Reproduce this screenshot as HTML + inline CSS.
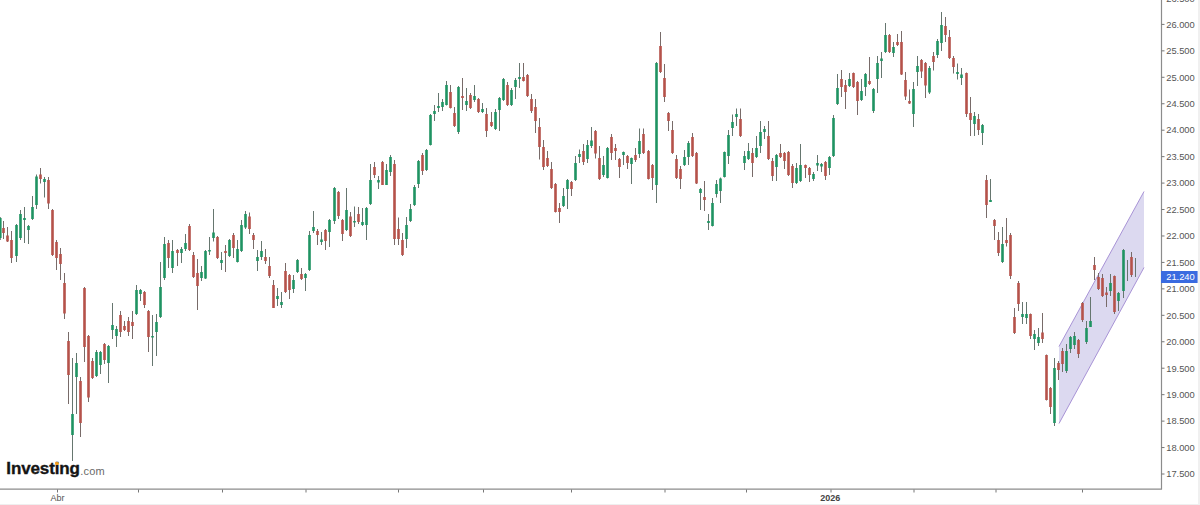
<!DOCTYPE html>
<html><head><meta charset="utf-8"><title>Chart</title>
<style>
html,body{margin:0;padding:0;background:#fff;}
body{width:1200px;height:505px;overflow:hidden;position:relative;font-family:"Liberation Sans",sans-serif;}
svg{position:absolute;left:0;top:0;display:block;}
.logo{position:absolute;left:6.3px;top:458.1px;font-family:"Liberation Sans",sans-serif;font-weight:700;font-size:17px;line-height:22px;color:#141414;letter-spacing:-0.12px;-webkit-text-stroke:0.35px #141414;white-space:nowrap;}
.logo span{position:relative;top:0.6px;-webkit-text-stroke:0;font-weight:400;font-size:11px;color:#6a6a6a;letter-spacing:0.15px;margin-left:0.5px;}
.dot{position:absolute;left:55.3px;top:461.5px;width:3.4px;height:3.4px;border-radius:50%;background:#f5a01d;}
.rb{position:absolute;left:1197.6px;top:0;width:2.4px;height:505px;background:#f0f0f0;}
.bb{position:absolute;left:0;top:504px;width:1200px;height:1px;background:#efefef;}
</style></head><body>
<svg width="1200" height="505" viewBox="0 0 1200 505">
<polygon points="1059,346.5 1144,191.5 1144,267.5 1059,423.5" fill="#dcd9f0"/>
<path d="M1059 346.5L1144 191.5M1059 423.5L1144 267.5" stroke="#a893d6" stroke-width="1" fill="none"/>
<path d="M0.3 217V240M16.5 224V262M20.5 210V240M24.5 207V243M28.5 225V244M32.5 196V220M36.5 174.5V209M44.5 177V197.5M72.5 358V461M76.5 353V414M96.5 350V377M100.5 351V374M108.5 345V383M112.5 303V339M116.5 326V347M136.5 285V315M140.5 289V301M152.5 315V366M156.5 314V356M160.5 262V318M164.5 237V280M172.5 240V273M181.5 247V263M185.5 234V251M201.5 266V281M205.5 250V279M209.5 237V255M213.5 209V241.5M221.5 252V270M229.5 239V257M237.5 240V262.5M241.5 220V252M245.5 211V229M257.5 250V271M261.5 241V260M277.5 288V306M281.5 292V308M293.5 275V293M297.5 259V273M305.5 273V291M309.5 231V271M313.5 211V233M321.5 232V245M329.5 219V247M334.5 187V224M346.5 188V231M354.5 206.5V227M362.5 208V226M366.5 207V240M370.5 164V205M378.5 176V189M386.5 164V185M390.5 155V176M406.5 217V248M410.5 204V222M414.5 185V206M418.5 160V188M426.5 149V171M430.5 114V145.5M434.5 105V121M438.5 93V112M442.5 99V111M446.5 81V105.5M458.5 86V134M466.5 88V111M474.5 85V102M482.5 103V113M495.5 109V130M499.5 97V131M503.5 78V101M511.5 88V106M515.5 78V99M519.5 63V88M563.5 188V207M567.5 179V209M575.5 156V181M579.5 149.5V163M587.5 140V163M591.5 127V148M603.5 156V177M607.5 147V178.5M623.5 151.5V165M631.5 157.5V184M639.5 128.5V158M656.5 62V203M684.5 150V166M688.5 141V165M700.5 188V210M708.5 214V230M712.5 198V226.5M716.5 180V197.5M720.5 177.5V203M724.5 151.5V177.5M728.5 130V164M732.5 114.5V136M736.5 108.5V126M744.5 151V170M748.5 143V160M756.5 136V158M760.5 121V153M764.5 126V139M776.5 154V181M796.5 163V184M800.5 144V182M813.5 172V181M817.5 155V171M821.5 163V172M829.5 156V175M833.5 115V157M837.5 74V105M849.5 73V87M861.5 79V101M865.5 73V96M873.5 88V113M877.5 56V93M881.5 52V78M885.5 23V53M893.5 42V57M913.5 82V127M917.5 56V86M929.5 66V94M937.5 39V58M941.5 12V51M957.5 63.5V79.5M961.5 68V85M974.5 112V136M982.5 124V145M990.5 179V202M1002.5 227V263M1022.5 302V324M1026.5 302V324M1034.5 330V350M1038.5 328V346M1054.5 358V426M1066.5 344V373M1070.5 336V353M1074.5 332V349M1086.5 321V344M1090.5 297V327M1110.5 274V296M1118.5 292V311M1123.5 249V298M1127.5 260V281M1135.5 258V277" stroke="#66766f" stroke-width="1" fill="none"/>
<path d="M3.5 221V239M7.5 227V242M11.5 231V263M40.5 168V183.5M48.5 177V209M52.5 209V256M56.5 240V270M60.5 248V280M64.5 273V319M68.5 332V404M80.5 377V437M84.5 287V362M88.5 335V402M92.5 358V379M104.5 343V364M120.5 311V337M124.5 321V331M128.5 317V336M132.5 311V339M144.5 291V308M148.5 310V352M168.5 240V268M177.5 249V266M189.5 224V251M193.5 252V278M197.5 259V310M217.5 236V259M225.5 245V272M233.5 233V258M249.5 212.5V234M253.5 233V249M265.5 249V264M269.5 257V278M273.5 280V308M285.5 263V293M289.5 274V299M301.5 268V280M317.5 229V245M325.5 229V250M338.5 191V219M342.5 219V241M350.5 212V237M358.5 207V224M374.5 162V178M382.5 161V185M394.5 160V245M398.5 217.5V245M402.5 233V256M422.5 153V175M450.5 85V108.5M454.5 107V127M462.5 78V110M470.5 93V109M478.5 98V113M486.5 108V137M491.5 112V127M507.5 82V106M523.5 63V81.5M527.5 74V97M531.5 94V113M535.5 99V133M539.5 118V159.5M543.5 140V170M547.5 151V167M551.5 162V189M555.5 183V212.5M559.5 203V223M571.5 181V196M583.5 144V165M595.5 130V158.5M599.5 146V180M611.5 134V160M615.5 144V160M619.5 158V178M627.5 155V169M635.5 148V162M643.5 128.5V154M648.5 150V179.5M652.5 164V190M660.5 32V73M664.5 64V102M668.5 112V131M672.5 121V154M676.5 155V179M680.5 166V189M692.5 133V157M696.5 152V184M704.5 181V211M740.5 108.5V137M752.5 148V177M768.5 121V160M772.5 158V181M780.5 144V158M784.5 152V169M788.5 151V176M792.5 164V188M805.5 164.5V178M809.5 167V182M825.5 161V180M841.5 70V97M845.5 80V109M853.5 72.5V88M857.5 81V115M869.5 57V85M889.5 34V53M897.5 34V46M901.5 31V75M905.5 72V100M909.5 89.5V104M921.5 59V78M925.5 62V98M933.5 52V70.5M945.5 17V42M949.5 30V59M953.5 56V73.5M966.5 72.5V117M970.5 97V136M978.5 114V135M986.5 175V218M994.5 219V240M998.5 232V256M1006.5 218V246.5M1010.5 233V279M1014.5 308V334M1018.5 281V311M1030.5 313.5V339M1042.5 313V343M1046.5 354.5V400.5M1050.5 387V414M1058.5 361V380M1062.5 348V372M1078.5 339V358M1082.5 302V322M1094.5 257V280M1098.5 273V290M1102.5 274V297M1106.5 287V307M1114.5 275.5V314M1131.5 252V277" stroke="#786b69" stroke-width="1" fill="none"/>
<path d="M-1 218h2.6v20h-2.6zM15.2 225h2.6v31h-2.6zM19.2 214h2.6v24h-2.6zM23.2 218h2.6v2h-2.6zM27.2 226h2.6v4h-2.6zM31.2 207h2.6v12h-2.6zM35.2 176.5h2.6v28.5h-2.6zM43.2 179h2.6v3h-2.6zM71.2 414h2.6v21h-2.6zM75.2 363h2.6v14h-2.6zM95.2 352h2.6v24h-2.6zM99.2 352h2.6v13h-2.6zM107.2 346h2.6v17h-2.6zM111.2 325h2.6v5h-2.6zM115.2 329h2.6v7h-2.6zM135.2 290h2.6v24h-2.6zM139.2 290h2.6v4h-2.6zM151.2 336h2.6v1.5h-2.6zM155.2 322h2.6v10h-2.6zM159.2 287h2.6v30h-2.6zM163.2 244h2.6v34h-2.6zM171.2 251h2.6v17h-2.6zM180.2 249h2.6v4h-2.6zM184.2 243h2.6v6h-2.6zM200.2 272h2.6v6h-2.6zM204.2 251h2.6v27.5h-2.6zM208.2 250h2.6v1.5h-2.6zM212.2 232.5h2.6v5.5h-2.6zM220.2 260h2.6v3h-2.6zM228.2 240h2.6v16h-2.6zM236.2 249h2.6v13h-2.6zM240.2 225h2.6v26h-2.6zM244.2 214h2.6v13.5h-2.6zM256.2 257h2.6v4h-2.6zM260.2 251h2.6v6h-2.6zM276.2 296h2.6v3h-2.6zM280.2 302h2.6v3h-2.6zM292.2 280h2.6v9h-2.6zM296.2 260h2.6v12h-2.6zM304.2 274h2.6v4h-2.6zM308.2 235h2.6v35h-2.6zM312.2 227h2.6v4h-2.6zM320.2 239.5h2.6v2.5h-2.6zM328.2 220h2.6v12h-2.6zM333.2 188h2.6v33h-2.6zM345.2 210h2.6v20h-2.6zM353.2 221h2.6v1.5h-2.6zM361.2 222h2.6v3h-2.6zM365.2 208h2.6v17h-2.6zM369.2 180h2.6v24h-2.6zM377.2 180h2.6v2.5h-2.6zM385.2 170h2.6v15h-2.6zM389.2 157h2.6v15h-2.6zM405.2 225h2.6v14h-2.6zM409.2 209h2.6v12h-2.6zM413.2 187h2.6v18h-2.6zM417.2 161h2.6v23h-2.6zM425.2 150h2.6v20h-2.6zM429.2 115h2.6v30h-2.6zM433.2 111h2.6v3h-2.6zM437.2 106h2.6v2h-2.6zM441.2 102h2.6v5h-2.6zM445.2 85h2.6v20h-2.6zM457.2 87h2.6v45h-2.6zM465.2 101h2.6v4h-2.6zM473.2 96h2.6v4h-2.6zM481.2 109h2.6v3h-2.6zM494.2 112h2.6v17h-2.6zM498.2 98h2.6v12h-2.6zM502.2 79h2.6v21h-2.6zM510.2 90h2.6v15h-2.6zM514.2 80h2.6v7h-2.6zM518.2 77h2.6v2h-2.6zM562.2 196h2.6v10h-2.6zM566.2 180h2.6v9h-2.6zM574.2 163h2.6v17h-2.6zM578.2 154h2.6v3h-2.6zM586.2 145h2.6v14h-2.6zM590.2 140.5h2.6v5.5h-2.6zM602.2 165h2.6v10h-2.6zM606.2 148h2.6v30h-2.6zM622.2 152h2.6v3h-2.6zM630.2 158h2.6v6h-2.6zM638.2 141h2.6v13h-2.6zM655.2 63h2.6v122h-2.6zM683.2 157h2.6v8h-2.6zM687.2 143h2.6v14h-2.6zM699.2 189h2.6v4h-2.6zM707.2 221h2.6v2h-2.6zM711.2 203h2.6v23h-2.6zM715.2 184h2.6v10h-2.6zM719.2 178.5h2.6v12.5h-2.6zM723.2 152h2.6v25h-2.6zM727.2 135h2.6v21h-2.6zM731.2 122h2.6v6h-2.6zM735.2 114h2.6v3h-2.6zM743.2 156h2.6v7h-2.6zM747.2 151h2.6v8h-2.6zM755.2 148h2.6v9h-2.6zM759.2 132h2.6v14h-2.6zM763.2 129h2.6v3h-2.6zM775.2 155h2.6v12h-2.6zM795.2 168h2.6v15h-2.6zM799.2 165h2.6v16h-2.6zM812.2 174h2.6v5h-2.6zM816.2 163h2.6v2.5h-2.6zM820.2 164h2.6v2.5h-2.6zM828.2 157h2.6v11h-2.6zM832.2 118h2.6v38h-2.6zM836.2 88h2.6v16h-2.6zM848.2 79h2.6v7h-2.6zM860.2 91h2.6v9h-2.6zM864.2 74h2.6v13h-2.6zM872.2 89h2.6v22h-2.6zM876.2 63h2.6v16h-2.6zM880.2 58.5h2.6v2.5h-2.6zM884.2 35h2.6v17h-2.6zM892.2 47h2.6v6h-2.6zM912.2 89h2.6v25h-2.6zM916.2 66h2.6v6h-2.6zM928.2 68h2.6v24.5h-2.6zM936.2 41h2.6v14h-2.6zM940.2 25h2.6v18h-2.6zM956.2 72h2.6v2h-2.6zM960.2 74.5h2.6v3.5h-2.6zM973.2 116h2.6v8h-2.6zM981.2 125h2.6v8h-2.6zM989.2 200h2.6v2h-2.6zM1001.2 244h2.6v18h-2.6zM1021.2 314h2.6v3h-2.6zM1025.2 314h2.6v4h-2.6zM1033.2 334h2.6v5h-2.6zM1037.2 337h2.6v6h-2.6zM1053.2 368h2.6v55h-2.6zM1065.2 351h2.6v20h-2.6zM1069.2 337h2.6v12h-2.6zM1073.2 336h2.6v9h-2.6zM1085.2 328h2.6v14h-2.6zM1089.2 321h2.6v6h-2.6zM1109.2 283h2.6v8h-2.6zM1117.2 293h2.6v8h-2.6zM1122.2 250h2.6v41h-2.6z" fill="#1f9362"/>
<path d="M2.2 228h2.6v5h-2.6zM6.2 235.5h2.6v6h-2.6zM10.2 240h2.6v18h-2.6zM39.2 174.5h2.6v4.5h-2.6zM47.2 180h2.6v23.5h-2.6zM51.2 210h2.6v45h-2.6zM55.2 242h2.6v16h-2.6zM59.2 254h2.6v10h-2.6zM63.2 283h2.6v30.5h-2.6zM67.2 341h2.6v34h-2.6zM79.2 381h2.6v42h-2.6zM83.2 288h2.6v59h-2.6zM87.2 336h2.6v61.5h-2.6zM91.2 361h2.6v17h-2.6zM103.2 344h2.6v16h-2.6zM119.2 315h2.6v17h-2.6zM123.2 326h2.6v4h-2.6zM127.2 321h2.6v11h-2.6zM131.2 322h2.6v4h-2.6zM143.2 292h2.6v13h-2.6zM147.2 311h2.6v26h-2.6zM167.2 243h2.6v15h-2.6zM176.2 250h2.6v3h-2.6zM188.2 226h2.6v24h-2.6zM192.2 255h2.6v22h-2.6zM196.2 273h2.6v13h-2.6zM216.2 237h2.6v21h-2.6zM224.2 251h2.6v2h-2.6zM232.2 235h2.6v13h-2.6zM248.2 216.5h2.6v12.5h-2.6zM252.2 235h2.6v5h-2.6zM264.2 257h2.6v4h-2.6zM268.2 266h2.6v10h-2.6zM272.2 285h2.6v23h-2.6zM284.2 271h2.6v21h-2.6zM288.2 275h2.6v15h-2.6zM300.2 274h2.6v5h-2.6zM316.2 231h2.6v4h-2.6zM324.2 230h2.6v11h-2.6zM337.2 192h2.6v24h-2.6zM341.2 220h2.6v14h-2.6zM349.2 216.5h2.6v19.5h-2.6zM357.2 214h2.6v8h-2.6zM373.2 167h2.6v8h-2.6zM381.2 162h2.6v23h-2.6zM393.2 164h2.6v75h-2.6zM397.2 229h2.6v10h-2.6zM401.2 240h2.6v15h-2.6zM421.2 155h2.6v16h-2.6zM449.2 92h2.6v16h-2.6zM453.2 113h2.6v13h-2.6zM461.2 96h2.6v2h-2.6zM469.2 95h2.6v13h-2.6zM477.2 99h2.6v13h-2.6zM485.2 114h2.6v17h-2.6zM490.2 122h2.6v4h-2.6zM506.2 85h2.6v20h-2.6zM522.2 77h2.6v4h-2.6zM526.2 75h2.6v21h-2.6zM530.2 99h2.6v12h-2.6zM534.2 107h2.6v14h-2.6zM538.2 127h2.6v20h-2.6zM542.2 147h2.6v20h-2.6zM546.2 158h2.6v8h-2.6zM550.2 169h2.6v19h-2.6zM554.2 184h2.6v28h-2.6zM558.2 208h2.6v4h-2.6zM570.2 182h2.6v7h-2.6zM582.2 151h2.6v11h-2.6zM594.2 131h2.6v22.5h-2.6zM598.2 158h2.6v21h-2.6zM610.2 137h2.6v16h-2.6zM614.2 148h2.6v3h-2.6zM618.2 159h2.6v8h-2.6zM626.2 156h2.6v7h-2.6zM634.2 155h2.6v5h-2.6zM642.2 134h2.6v19h-2.6zM647.2 151h2.6v28h-2.6zM651.2 165h2.6v13h-2.6zM659.2 46h2.6v26h-2.6zM663.2 78h2.6v19h-2.6zM667.2 113h2.6v8h-2.6zM671.2 130h2.6v23h-2.6zM675.2 159h2.6v19h-2.6zM679.2 169h2.6v10h-2.6zM691.2 137h2.6v19h-2.6zM695.2 153h2.6v30.5h-2.6zM703.2 197h2.6v3h-2.6zM739.2 119h2.6v17h-2.6zM751.2 153h2.6v10h-2.6zM767.2 136h2.6v23h-2.6zM771.2 161h2.6v15h-2.6zM779.2 153h2.6v4h-2.6zM783.2 153h2.6v8h-2.6zM787.2 152h2.6v23h-2.6zM791.2 166h2.6v17h-2.6zM804.2 165h2.6v3h-2.6zM808.2 168h2.6v7h-2.6zM824.2 162h2.6v14h-2.6zM840.2 79h2.6v8h-2.6zM844.2 85h2.6v7h-2.6zM852.2 73h2.6v14h-2.6zM856.2 82h2.6v19h-2.6zM868.2 81h2.6v3h-2.6zM888.2 35h2.6v17h-2.6zM896.2 42h2.6v3h-2.6zM900.2 42h2.6v32.5h-2.6zM904.2 80h2.6v16.5h-2.6zM908.2 101h2.6v2.5h-2.6zM920.2 60h2.6v11.5h-2.6zM924.2 63h2.6v22.5h-2.6zM932.2 56h2.6v6h-2.6zM944.2 26h2.6v9h-2.6zM948.2 37h2.6v21h-2.6zM952.2 58h2.6v9h-2.6zM965.2 73h2.6v41h-2.6zM969.2 113h2.6v7h-2.6zM977.2 119h2.6v11h-2.6zM985.2 180h2.6v25h-2.6zM993.2 220h2.6v6h-2.6zM997.2 240h2.6v13h-2.6zM1005.2 240h2.6v3h-2.6zM1009.2 235h2.6v41h-2.6zM1013.2 317h2.6v16h-2.6zM1017.2 283h2.6v21h-2.6zM1029.2 314h2.6v22h-2.6zM1041.2 332.5h2.6v6.5h-2.6zM1045.2 355h2.6v45h-2.6zM1049.2 388h2.6v19h-2.6zM1057.2 363h2.6v7h-2.6zM1061.2 351h2.6v13h-2.6zM1077.2 340h2.6v14h-2.6zM1081.2 303h2.6v17h-2.6zM1093.2 265h2.6v5h-2.6zM1097.2 277h2.6v12h-2.6zM1101.2 278h2.6v18h-2.6zM1105.2 292.5h2.6v2.5h-2.6zM1113.2 276h2.6v36h-2.6zM1130.2 257h2.6v18h-2.6z" fill="#b5524a"/>

<path d="M0 489.1H1162M1161.5 0V489.6" stroke="#8c8c8c" stroke-width="1.2" fill="none"/>
<path d="M1161.5 -1.35h3M1161.5 24.4h3M1161.5 50.85h3M1161.5 77.29h3M1161.5 103.74h3M1161.5 130.19h3M1161.5 156.64h3M1161.5 183.08h3M1161.5 209.53h3M1161.5 235.98h3M1161.5 262.42h3M1161.5 288.87h3M1161.5 315.32h3M1161.5 341.76h3M1161.5 368.21h3M1161.5 394.66h3M1161.5 421.11h3M1161.5 447.55h3M1161.5 474h3M57.5 489.5v3M138.5 489.5v3M222.5 489.5v3M306 489.5v3M398.5 489.5v3M483.5 489.5v3M571.5 489.5v3M665 489.5v3M746.5 489.5v3M831 489.5v3M914 489.5v3M996 489.5v3M1082.5 489.5v3" stroke="#777" stroke-width="1" fill="none"/>
<g font-family="Liberation Sans, sans-serif" font-size="9.35" fill="#555">
<text x="1166.2" y="1.95">26.500</text>
<text x="1166.2" y="27.7">26.000</text>
<text x="1166.2" y="54.15">25.500</text>
<text x="1166.2" y="80.59">25.000</text>
<text x="1166.2" y="107.04">24.500</text>
<text x="1166.2" y="133.49">24.000</text>
<text x="1166.2" y="159.94">23.500</text>
<text x="1166.2" y="186.38">23.000</text>
<text x="1166.2" y="212.83">22.500</text>
<text x="1166.2" y="239.28">22.000</text>
<text x="1166.2" y="265.72">21.500</text>
<text x="1166.2" y="292.17">21.000</text>
<text x="1166.2" y="318.62">20.500</text>
<text x="1166.2" y="345.06">20.000</text>
<text x="1166.2" y="371.51">19.500</text>
<text x="1166.2" y="397.96">19.000</text>
<text x="1166.2" y="424.41">18.500</text>
<text x="1166.2" y="450.85">18.000</text>
<text x="1166.2" y="477.3">17.500</text>
</g>
<rect x="1161" y="271" width="36.6" height="12" fill="#3a6be0"/>
<text x="1166.2" y="280.3" font-family="Liberation Sans, sans-serif" font-size="9.35" fill="#fff">21.240</text>
<text x="57.5" y="501" text-anchor="middle" font-family="Liberation Sans, sans-serif" font-size="9" fill="#555">Abr</text>
<text x="830.2" y="501" text-anchor="middle" font-family="Liberation Sans, sans-serif" font-size="9" font-weight="700" fill="#444">2026</text>
</svg>
<div class="logo">Investing<span>.com</span></div><div class="dot"></div>
<div class="rb"></div><div class="bb"></div>
</body></html>
